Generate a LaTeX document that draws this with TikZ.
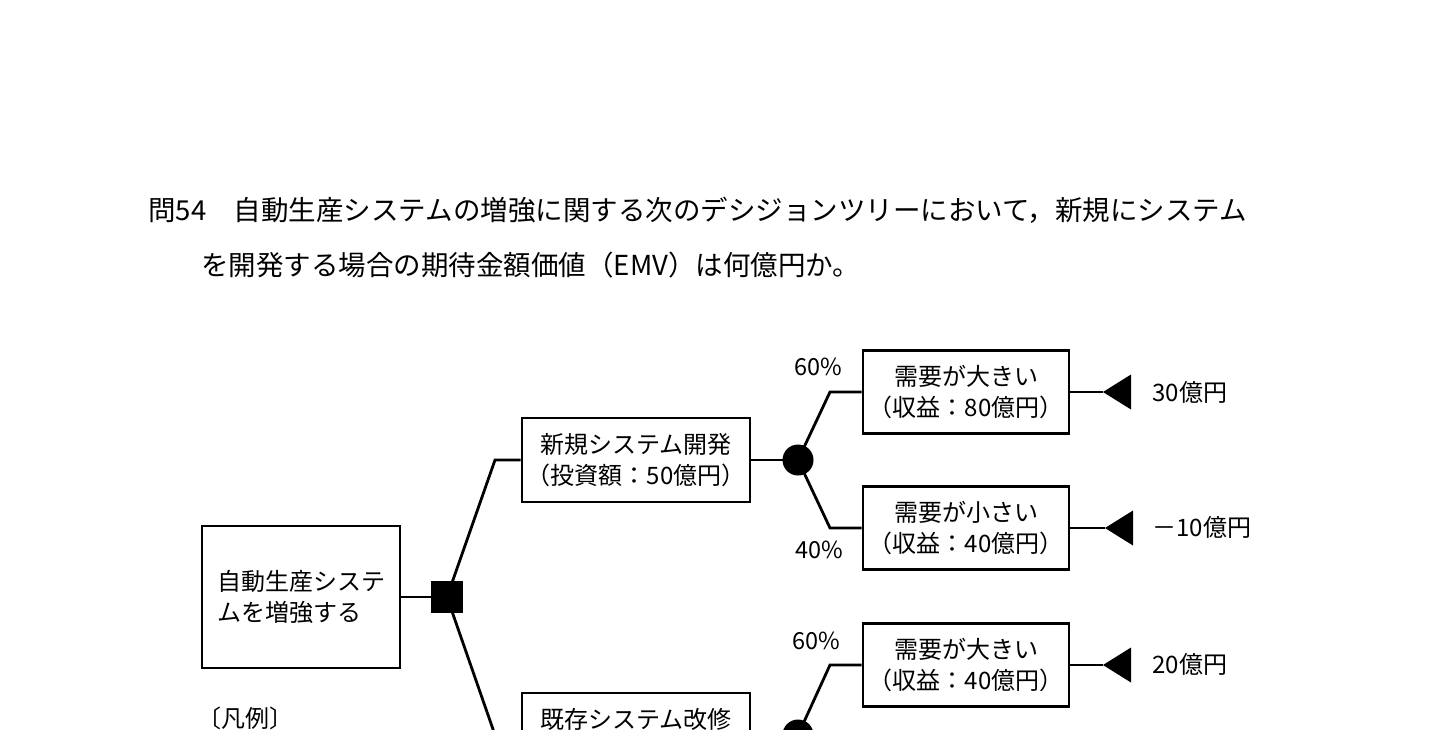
\documentclass[tikz,border=0pt]{standalone}
\usepackage{fontspec}
\setmainfont{Noto Sans CJK JP}
\begin{document}
\begin{tikzpicture}[x=1pt,y=-1pt,
  line width=2.8pt,
  box/.style={draw, fill=white, line width=2.8pt, align=center, inner sep=0pt,
    font=\fontsize{24}{31}\selectfont},
  title/.style={anchor=west, inner sep=0pt, font=\fontsize{27.5}{30}\selectfont},
  pct/.style={inner sep=0pt, font=\fontsize{23.5}{26}\selectfont},
  val/.style={anchor=west, inner sep=0pt, font=\fontsize{24}{28}\selectfont},
  decision/.style={fill=black, minimum size=32pt, inner sep=0pt},
  chance/.style={circle, fill=black, minimum size=31pt, inner sep=0pt}
]
\useasboundingbox (0,0) rectangle (1432,729);
\clip (0,0) rectangle (1432,729);
\fill[white] (0,0) rectangle (1432,729);

% question text
\node[title] (q1) at (147,210) {問54　自動生産システムの増強に関する次のデシジョンツリーにおいて，新規にシステム};
\node[title] (q2) at (200,265) {を開発する場合の期待金額価値（EMV）は何億円か。};

% boxes
\node[box, align=left, minimum width=198pt, minimum height=142pt] (root) at (301,597) {自動生産システ\\ムを増強する};
\node[box, minimum width=228pt, minimum height=84pt] (new) at (636,460) {新規システム開発\\（投資額：50億円）};
\node[box, minimum width=228pt, minimum height=84pt] (old) at (636,735) {既存システム改修\\\phantom{（投資額：50億円）}};
\node[box, minimum width=206pt, minimum height=83pt] (big1) at (966,392) {需要が大きい\\（収益：80億円）};
\node[box, minimum width=206pt, minimum height=83pt] (small1) at (966,528) {需要が小さい\\（収益：40億円）};
\node[box, minimum width=206pt, minimum height=83pt] (big2) at (966,665) {需要が大きい\\（収益：40億円）};

% decision and chance nodes
\node[decision] (sq) at (447,597) {};
\node[chance] (c1) at (798,460) {};
\node[chance] (c2) at (798,735) {};

% elbows
\coordinate (e1) at (495,460);
\coordinate (e2) at (495,735);
\coordinate (e3) at (830,392);
\coordinate (e4) at (830,528);
\coordinate (e5) at (830,665);

% connectors
\draw (root.east) -- (sq.center);
\draw (sq.center) -- (e1) -- (new.west);
\draw (sq.center) -- (e2) -- (old.west);
\draw (new.east) -- (c1.center);
\draw (c1.center) -- (e3) -- (big1.west);
\draw (c1.center) -- (e4) -- (small1.west);
\draw (old.east) -- (c2.center);
\draw (c2.center) -- (e5) -- (big2.west);

% terminal triangles
\coordinate (tp1) at (1103,392);
\coordinate (tp2) at (1105,528);
\coordinate (tp3) at (1103,665);
\draw (big1.east) -- (tp1);
\draw (small1.east) -- (tp2);
\draw (big2.east) -- (tp3);
\fill (tp1) -- ++(28,-17.5) -- ++(0,35) -- cycle;
\fill (tp2) -- ++(28,-17.5) -- ++(0,35) -- cycle;
\fill (tp3) -- ++(28,-17.5) -- ++(0,35) -- cycle;

% values
\node[val] (v1) at (1151,392) {30億円};
\node[val] (v2) at (1151,527) {－10億円};
\node[val] (v3) at (1151,664) {20億円};

% probabilities
\node[pct] (p1) at (818,367) {60\%};
\node[pct] (p2) at (819,550) {40\%};
\node[pct] (p3) at (816,641) {60\%};

% legend
\node[val] (leg) at (196,718) {〔凡例〕};
\end{tikzpicture}
\end{document}
